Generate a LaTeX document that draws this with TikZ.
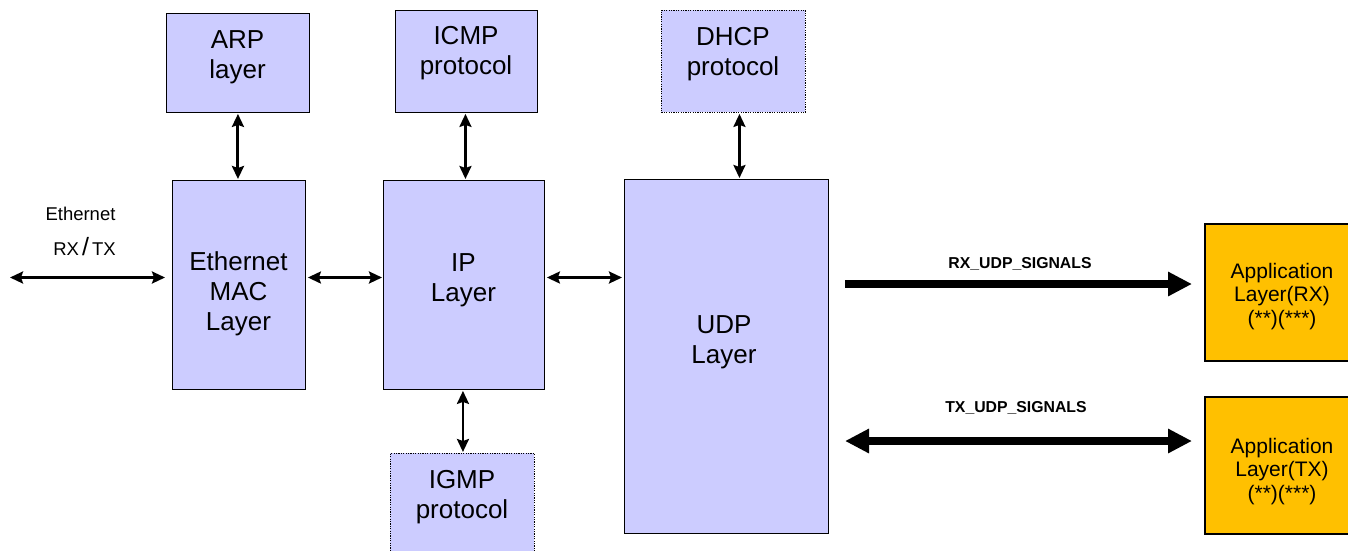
\documentclass[tikz,border=0pt]{standalone}
\usepackage{fontspec}
\setmainfont{Liberation Sans}
\usetikzlibrary{arrows.meta}
\definecolor{lav}{HTML}{CCCCFF}
\definecolor{appor}{HTML}{FFC000}
\newcommand\stk[1]{\vtop{\halign{\hfil##\hfil\cr#1\crcr}}}
\tikzset{
  box/.style={draw=black, line width=0.9pt, fill=lav, anchor=north west, inner sep=0pt},
  dotbox/.style={box, dash pattern=on 1.2pt off 1.2pt},
  appbox/.style={draw=black, line width=2pt, fill=appor, anchor=north west, inner sep=0pt},
  btxt/.style={anchor=base, inner sep=0pt, font=\fontsize{26}{30}\selectfont},
  atxt/.style={anchor=base, inner sep=0pt, font=\fontsize{21}{23.5}\selectfont},
  thin2/.style={line width=2.5pt, {Stealth[length=13pt,width=12pt,inset=2pt]}-{Stealth[length=13pt,width=12pt,inset=2pt]}},
  thin3/.style={line width=3pt, {Stealth[length=13pt,width=12pt,inset=2pt]}-{Stealth[length=13pt,width=12pt,inset=2pt]}},
  fat/.style={line width=8pt, -{Triangle[length=24pt,width=23pt]}},
  fatdbl/.style={line width=8pt, {Triangle[length=24pt,width=23pt]}-{Triangle[length=24pt,width=23pt]}},
  lbl/.style={anchor=base, inner sep=0pt, font=\fontsize{18.5}{20}\selectfont},
  sig/.style={anchor=base, inner sep=0pt, font=\bfseries\fontsize{15.8}{18}\selectfont},
}
\begin{document}
\begin{tikzpicture}[x=1pt,y=-1pt]
\useasboundingbox (0,0) rectangle (1348,550);
\clip (0,0) rectangle (1348,550);
% boxes
\node[box, minimum width=143pt, minimum height=99pt] (arp) at (166,13) {};
\node[box, minimum width=142pt, minimum height=102pt] (icmp) at (395,10) {};
\node[dotbox, minimum width=144pt, minimum height=102pt] (dhcp) at (661,10) {};
\node[box, minimum width=133pt, minimum height=209pt] (mac) at (172,180) {};
\node[box, minimum width=161pt, minimum height=209pt] (ip) at (383,180) {};
\node[box, minimum width=204pt, minimum height=354pt] (udp) at (624,179) {};
\node[dotbox, minimum width=144pt, minimum height=110pt] (igmp) at (390,453) {};
\node[appbox, minimum width=160pt, minimum height=137pt] (apprx) at (1204,223) {};
\node[appbox, minimum width=160pt, minimum height=137pt] (apptx) at (1204,396) {};
% box texts
\node[btxt] (arpt) at (237.5,48) {\stk{ARP\cr layer}};
\node[btxt] (icmpt) at (466,44.5) {\stk{ICMP\cr protocol}};
\node[btxt] (dhcpt) at (733,45.5) {\stk{DHCP\cr protocol}};
\node[btxt] (mact) at (238.5,270) {\stk{Ethernet\cr MAC\cr Layer}};
\node[btxt] (ipt) at (463.5,271.5) {\stk{IP\cr Layer}};
\node[btxt] (udpt) at (724,333) {\stk{UDP\cr Layer}};
\node[btxt] (igmpt) at (462,488.3) {\stk{IGMP\cr protocol}};
\node[atxt] (apprxt) at (1282,278.3) {\stk{Application\cr Layer(RX)\cr (**)(***)}};
\node[atxt] (apptxt) at (1282,453.3) {\stk{Application\cr Layer(TX)\cr (**)(***)}};
% labels
\node[lbl] (ethlbl) at (80.5,220) {Ethernet};
\node[lbl] (rxtx) at (84.5,255.7) {RX\hspace{3pt}{\fontsize{25}{25}\selectfont/}\hspace{3pt}TX};
\node[sig] (rxsig) at (1020,268.3) {RX\_UDP\_SIGNALS};
\node[sig] (txsig) at (1016,412.7) {TX\_UDP\_SIGNALS};
% connectors
\coordinate (ethL) at (10,277.5);
\draw[thin2, shorten >=7pt] (ethL) -- (ethL -| mac.west);
\draw[thin2, shorten >=1pt, shorten <=2pt] (mac.east |- ethL) -- (ip.west |- ethL);
\draw[thin2, shorten >=2pt, shorten <=2pt] (ip.east |- ethL) -- (udp.west |- ethL);
\draw[thin3, shorten >=1pt, shorten <=1pt] (arp.south) -- (arp.south |- mac.north);
\draw[thin2, shorten >=1pt, shorten <=1pt] ([xshift=-1pt]icmp.south) -- ([xshift=-1pt]icmp.south |- ip.north);
\draw[thin2, shorten >=1pt, shorten <=1pt] ([xshift=6pt]dhcp.south) -- ([xshift=6pt]dhcp.south |- udp.north);
\draw[thin2, shorten >=1pt, shorten <=1pt] ([xshift=-1pt]ip.south) -- ([xshift=-1pt]ip.south |- igmp.north);
\coordinate (rxs) at (845,284);
\draw[fat, shorten >=12pt] (rxs) -- (rxs -| apprx.west);
\coordinate (txs) at (845,441);
\draw[fatdbl, shorten >=12pt] (txs) -- (txs -| apptx.west);
\end{tikzpicture}
\end{document}
